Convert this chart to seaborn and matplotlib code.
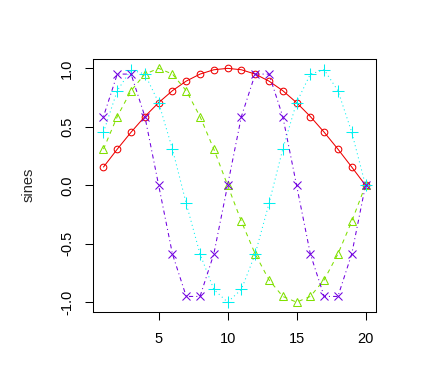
import matplotlib
matplotlib.use("Agg")
import matplotlib.pyplot as plt
import seaborn as sns

# values (x = 1..20)
x = list(range(1, 21))
sine1 = [0.156, 0.309, 0.454, 0.588, 0.707, 0.809, 0.891, 0.951, 0.988, 1.0,
         0.988, 0.951, 0.891, 0.809, 0.707, 0.588, 0.454, 0.309, 0.156, 0.0]
sine2 = [0.309, 0.588, 0.809, 0.951, 1.0, 0.951, 0.809, 0.588, 0.309, 0.0,
         -0.309, -0.588, -0.809, -0.951, -1.0, -0.951, -0.809, -0.588, -0.309, 0.0]
sine3 = [0.454, 0.809, 0.988, 0.951, 0.707, 0.309, -0.156, -0.588, -0.891, -1.0,
         -0.891, -0.588, -0.156, 0.309, 0.707, 0.951, 0.988, 0.809, 0.454, 0.0]
sine4 = [0.588, 0.951, 0.951, 0.588, 0.0, -0.588, -0.951, -0.951, -0.588, 0.0,
         0.588, 0.951, 0.951, 0.588, 0.0, -0.588, -0.951, -0.951, -0.588, 0.0]

series = [sine1, sine2, sine3, sine4]
colors = ["#EE0000", "#80E000", "#00F0F0", "#7000E0"]
markers = ["o", "^", "+", "x"]
msizes = [4.8, 6, 8, 6]
styles = ["-", (0, (4, 4)), (0, (1, 3)), (0, (1, 3, 4, 3))]

sns.set_style("white")
plt.rcParams["font.family"] = ["Liberation Sans", "DejaVu Sans"]

fig = plt.figure(figsize=(4.3, 3.77), dpi=100)
ax = fig.add_axes([0.2163, 0.1737, 0.6581, 0.6698])

for vals, c, m, ms, ls in zip(series, colors, markers, msizes, styles):
    sns.lineplot(x=x, y=vals, ax=ax, color=c, marker=m, linestyle=ls,
                 linewidth=0.75, markersize=ms, markerfacecolor="none",
                 markeredgecolor=c, markeredgewidth=0.75)

ax.set_xlim(0.24, 20.76)
ax.set_ylim(-1.08, 1.08)
ax.set_xticks([5, 10, 15, 20])
ax.set_yticks([-1.0, -0.5, 0.0, 0.5, 1.0])
ax.set_yticklabels(["-1.0", "-0.5", "0.0", "0.5", "1.0"], rotation=90, va="center")
ax.tick_params(axis="both", direction="out", length=5.5, width=0.75,
               labelsize=10.5, colors="black", left=True, bottom=True)
ax.tick_params(axis="x", pad=9)
ax.tick_params(axis="y", pad=8)
ax.set_ylabel("sines", fontsize=10.5, labelpad=18)
ax.set_xlabel("")
for s in ax.spines.values():
    s.set_color("black")
    s.set_linewidth(0.75)

fig.savefig("out.png", dpi=100)
